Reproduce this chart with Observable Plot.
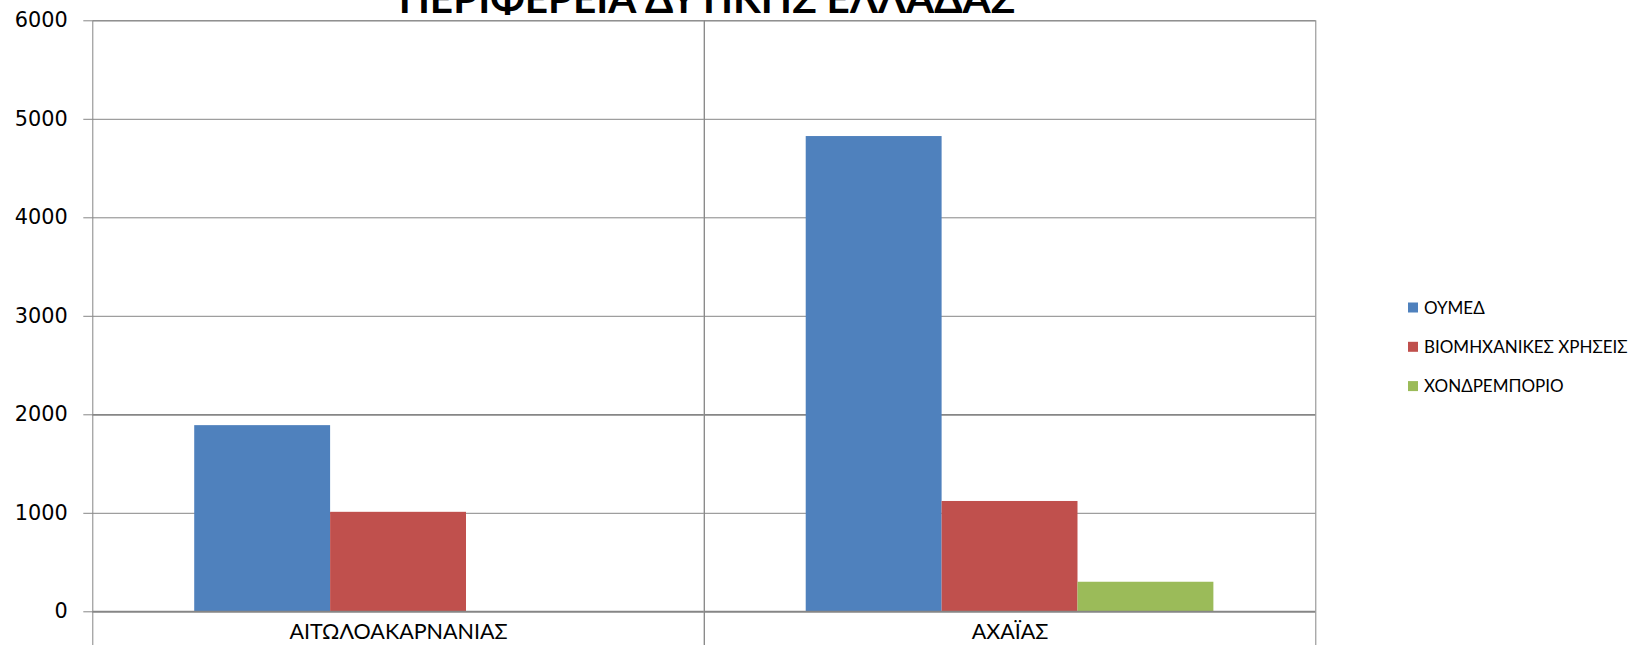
<!DOCTYPE html>
<html><head><meta charset="utf-8">
<script src="https://cdn.jsdelivr.net/npm/d3@7"></script>
<script src="https://cdn.jsdelivr.net/npm/@observablehq/plot@0.6"></script>
<style>
html,body{margin:0;padding:0;background:#fff;overflow:hidden;}
#wrap{position:relative;width:1642px;height:645px;overflow:hidden;background:#fff;}
#wrap svg{position:absolute;left:0;top:0;overflow:hidden;}
</style></head><body><div id="wrap"></div>
<script>
const categories = ["ΑΙΤΩΛΟΑΚΑΡΝΑΝΙΑΣ", "ΑΧΑΪΑΣ"];
const seriesNames = ["ΟΥΜΕΔ", "ΒΙΟΜΗΧΑΝΙΚΕΣ ΧΡΗΣΕΙΣ", "ΧΟΝΔΡΕΜΠΟΡΙΟ"];
const oumedValues = [1890, 4825];
const viomichanikesValues = [1010, 1120];
const chondremporioValues = [null, 300];
const yTicks = [0, 1000, 2000, 3000, 4000, 5000, 6000];
const seriesColors = ["#4f81bd", "#c0504d", "#9bbb59"];
const chartTitle = "ΠΕΡΙΦΕΡΕΙΑ ΔΥΤΙΚΗΣ ΕΛΛΑΔΑΣ";

const seriesValues = [oumedValues, viomichanikesValues, chondremporioValues];
const data = [];
categories.forEach((c, i) => seriesNames.forEach((s, j) => {
  const v = seriesValues[j][i];
  if (v != null) data.push({category: c, series: s, value: v});
}));

const W = 1642, H = 645;
const gridColor = "#868686";

const chart = Plot.plot({
  width: W, height: H,
  marginLeft: 92.3, marginRight: W - 1315.3, marginTop: 20.3, marginBottom: H - 611.3,
  style: {background: "transparent", overflow: "hidden"},
  fx: {domain: categories, padding: 0, round: false, label: null},
  x: {domain: seriesNames, paddingInner: 0, paddingOuter: 0.75, round: false, axis: null},
  y: {domain: [0, 6000], label: null},
  color: {domain: seriesNames, range: seriesColors},
  marks: [
    Plot.ruleY(yTicks.filter(t => t !== 0), {stroke: gridColor, strokeWidth: t => t === 2000 ? 1.8 : 1}),
    Plot.frame({stroke: gridColor, insetBottom: -40}),
    Plot.barY(data, {fx: "category", x: "series", y: "value", fill: "series"}),
    Plot.ruleY([0], {stroke: gridColor, strokeWidth: 2}),
    Plot.axisY({ticks: yTicks, tickSize: 9, tickPadding: 16, tickFormat: d3.format("d"),
      stroke: gridColor, fill: "black", fontFamily: "DejaVu Sans", fontSize: 20.8, label: null}),
    Plot.axisFx({anchor: "bottom", tickSize: 0, tickPadding: 12, fontFamily: "Lato",
      fontSize: 21.5, fill: "black", label: null})
  ]
});
const wrap = document.getElementById("wrap");
wrap.appendChild(chart);

const overlay = d3.create("svg").attr("width", W).attr("height", H);
overlay.append("text")
  .attr("x", 707).attr("y", 13).attr("text-anchor", "middle")
  .attr("font-family", "Lato").attr("font-weight", "bold").attr("font-size", 40.5)
  .attr("fill", "black")
  .text(chartTitle);
const lg = overlay.append("g").attr("font-family", "Lato").attr("font-size", 17);
seriesNames.forEach((s, i) => {
  const base = 313.5 + i * 39.3;
  lg.append("rect").attr("x", 1408).attr("y", base - 11).attr("width", 10).attr("height", 10)
    .attr("fill", seriesColors[i]);
  lg.append("text").attr("x", 1424).attr("y", base).attr("fill", "black").text(s);
});
wrap.appendChild(overlay.node());
</script></body></html>
